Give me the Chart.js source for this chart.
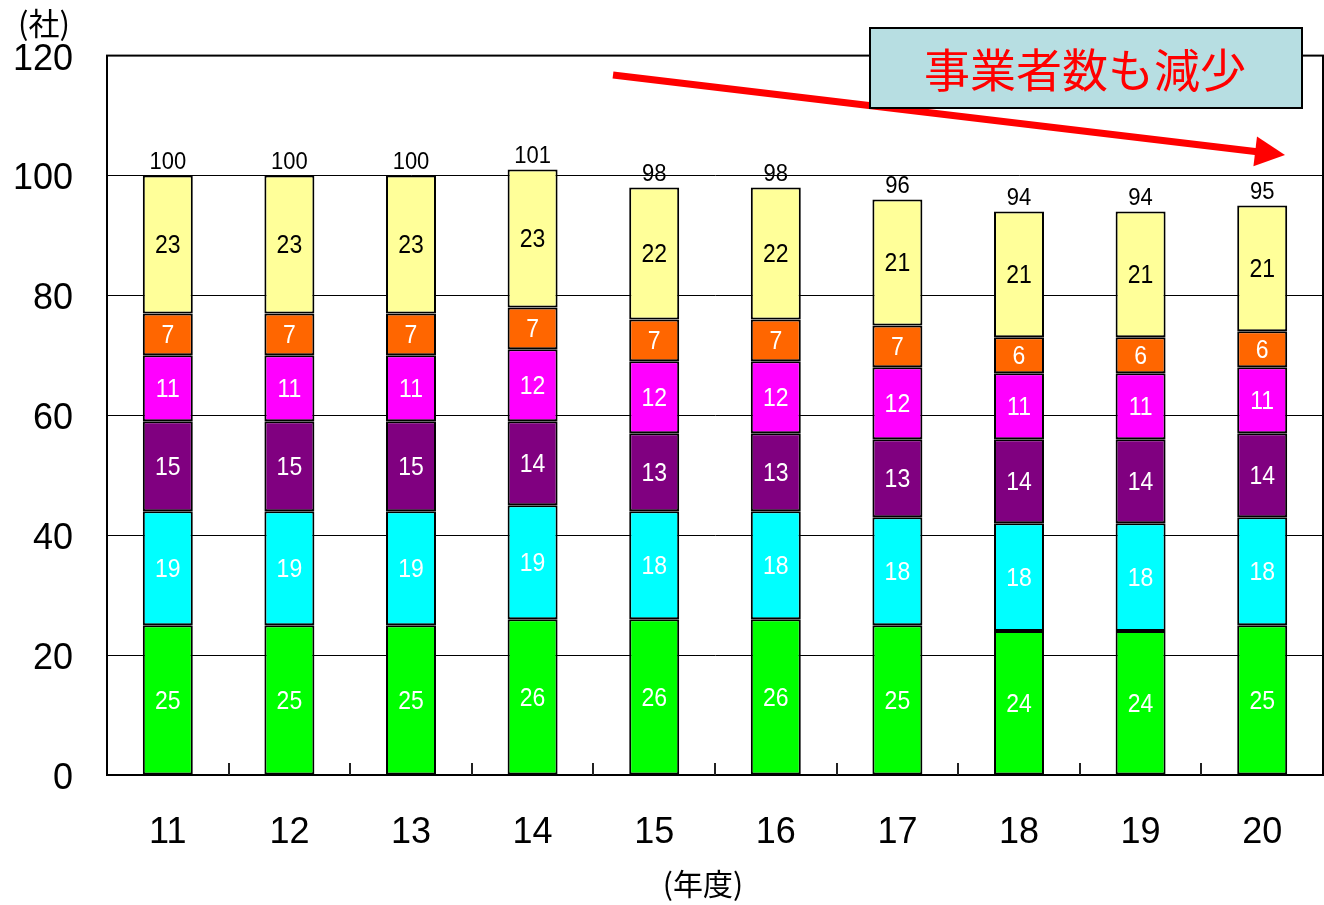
<!DOCTYPE html>
<html>
<head>
<meta charset="utf-8">
<script src="https://cdn.jsdelivr.net/npm/chart.js@4/dist/chart.umd.min.js"></script>
<style>
  html, body { margin: 0; padding: 0; background: #ffffff; }
  #wrap { position: relative; width: 1324px; height: 905px; }
</style>
</head>
<body>
<div id="wrap"><canvas id="c" width="1324" height="905"></canvas></div>
<script>
// ---- data ----
const categories = ['11', '12', '13', '14', '15', '16', '17', '18', '19', '20'];
const seriesGreen   = [25, 25, 25, 26, 26, 26, 25, 24, 24, 25];
const seriesCyan    = [19, 19, 19, 19, 18, 18, 18, 18, 18, 18];
const seriesPurple  = [15, 15, 15, 14, 13, 13, 13, 14, 14, 14];
const seriesMagenta = [11, 11, 11, 12, 12, 12, 12, 11, 11, 11];
const seriesOrange  = [7, 7, 7, 7, 7, 7, 7, 6, 6, 6];
const seriesYellow  = [23, 23, 23, 23, 22, 22, 21, 21, 21, 21];
const totals        = [100, 100, 100, 101, 98, 98, 96, 94, 94, 95];
const yTicks        = [0, 20, 40, 60, 80, 100, 120];
const yUnitLabel = '(社)';
const xUnitLabel = '(年度)';
const calloutText = '事業者数も減少';

const LATIN = '"Liberation Sans", Arial, sans-serif';
const CJK = '"Noto Sans CJK JP", sans-serif';

const seriesList = [
  { data: seriesGreen,   bg: '#00FF00', fg: '#FFFFFF' },
  { data: seriesCyan,    bg: '#00FFFF', fg: '#FFFFFF' },
  { data: seriesPurple,  bg: '#800080', fg: '#FFFFFF' },
  { data: seriesMagenta, bg: '#FF00FF', fg: '#FFFFFF' },
  { data: seriesOrange,  bg: '#FF6600', fg: '#FFFFFF' },
  { data: seriesYellow,  bg: '#FFFF99', fg: '#000000' }
];

const datasets = seriesList.map(s => ({
  data: s.data,
  backgroundColor: s.bg,
  borderColor: '#000000',
  borderWidth: 2,
  borderSkipped: false,
  categoryPercentage: 1.0,
  barPercentage: 0.411,
  labelColor: s.fg
}));

// draw text slightly stretched vertically, like the reference
function tallText(ctx, txt, x, y, sy) {
  ctx.save();
  ctx.translate(x, y);
  ctx.scale(1, sy);
  ctx.fillText(txt, 0, 0);
  ctx.restore();
}

const labelsPlugin = {
  id: 'segLabels',
  afterDatasetsDraw(chart) {
    const ctx = chart.ctx;
    ctx.save();
    ctx.textAlign = 'center';
    ctx.textBaseline = 'middle';
    ctx.font = '23px ' + LATIN;
    chart.data.datasets.forEach((ds, di) => {
      const meta = chart.getDatasetMeta(di);
      meta.data.forEach((el, i) => {
        ctx.fillStyle = ds.labelColor;
        tallText(ctx, String(ds.data[i]), el.x, (el.y + el.base) / 2 + 2, 1.1);
      });
    });
    // totals above bars
    const topMeta = chart.getDatasetMeta(chart.data.datasets.length - 1);
    ctx.fillStyle = '#000000';
    ctx.textBaseline = 'bottom';
    ctx.font = '22px ' + LATIN;
    topMeta.data.forEach((el, i) => {
      tallText(ctx, String(totals[i]), el.x, el.y - 1, 1.05);
    });
    ctx.restore();
  }
};

const framePlugin = {
  id: 'frame',
  afterDraw(chart) {
    const ctx = chart.ctx;
    const a = chart.chartArea;
    const xs = chart.scales.x;
    ctx.save();
    // plot frame
    ctx.strokeStyle = '#000000';
    ctx.lineWidth = 2;
    ctx.strokeRect(a.left, a.top, a.right - a.left, a.bottom - a.top);
    // inward category separator ticks
    ctx.lineWidth = 2;
    ctx.strokeStyle = '#222222';
    for (let i = 0; i < categories.length - 1; i++) {
      const px = Math.round((xs.getPixelForValue(i) + xs.getPixelForValue(i + 1)) / 2);
      ctx.beginPath();
      ctx.moveTo(px, a.bottom - 12);
      ctx.lineTo(px, a.bottom);
      ctx.stroke();
    }
    // unit labels
    ctx.fillStyle = '#000000';
    ctx.textAlign = 'center';
    ctx.textBaseline = 'middle';
    ctx.font = '31px ' + CJK;
    ctx.fillText(yUnitLabel, 44, 23);
    ctx.font = '30px ' + CJK;
    ctx.fillText(xUnitLabel, 703, 884);

    // red arrow
    const x0 = 613, y0 = 75, x1 = 1285, y1 = 155;
    const dx = x1 - x0, dy = y1 - y0, len = Math.hypot(dx, dy);
    const ux = dx / len, uy = dy / len, nx = -uy, ny = ux;
    const headL = 30, headW = 15;
    const bx = x1 - ux * headL, by = y1 - uy * headL;
    ctx.strokeStyle = '#FF0000';
    ctx.lineWidth = 7;
    ctx.beginPath();
    ctx.moveTo(x0, y0);
    ctx.lineTo(bx + ux * 2, by + uy * 2);
    ctx.stroke();
    ctx.fillStyle = '#FF0000';
    ctx.beginPath();
    ctx.moveTo(x1, y1);
    ctx.lineTo(bx + nx * headW, by + ny * headW);
    ctx.lineTo(bx - nx * headW, by - ny * headW);
    ctx.closePath();
    ctx.fill();

    // callout box
    ctx.fillStyle = '#B7DEE2';
    ctx.fillRect(870, 28, 432, 80);
    ctx.strokeStyle = '#000000';
    ctx.lineWidth = 2;
    ctx.strokeRect(870, 28, 432, 80);
    ctx.fillStyle = '#FF0000';
    ctx.font = '46px ' + CJK;
    ctx.textAlign = 'center';
    ctx.textBaseline = 'middle';
    ctx.fillText(calloutText, 1085, 70);
    ctx.restore();
  }
};

new Chart(document.getElementById('c'), {
  type: 'bar',
  data: { labels: categories, datasets: datasets },
  options: {
    responsive: false,
    animation: false,
    devicePixelRatio: 1,
    layout: { padding: { top: 55, right: 1, bottom: 0, left: 0 } },
    plugins: { legend: { display: false }, tooltip: { enabled: false }, title: { display: false } },
    scales: {
      x: {
        stacked: true,
        grid: { display: false, drawTicks: false },
        border: { display: true, color: '#000000', width: 2 },
        ticks: { color: '#000000', font: { family: LATIN, size: 36 }, padding: 36, maxRotation: 0 },
        afterFit(s) { s.height = 130; }
      },
      y: {
        stacked: true,
        min: 0,
        max: 120,
        afterBuildTicks(s) { s.ticks = yTicks.map(v => ({ value: v })); },
        grid: { color: '#000000', lineWidth: 1, drawTicks: false },
        border: { display: true, color: '#000000', width: 2 },
        ticks: { color: '#000000', font: { family: LATIN, size: 36 }, padding: 34, labelOffset: 4 },
        afterFit(s) { s.width = 107; }
      }
    }
  },
  plugins: [labelsPlugin, framePlugin]
});
</script>
</body>
</html>
